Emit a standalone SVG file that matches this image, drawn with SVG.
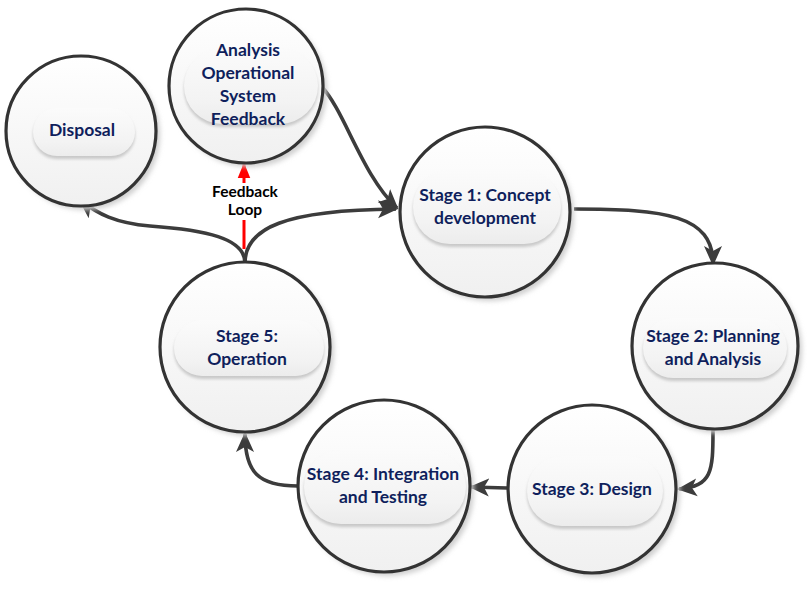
<svg xmlns="http://www.w3.org/2000/svg" width="807" height="595" viewBox="0 0 807 595">
<style>
.ring{fill:url(#cg);stroke:#333;stroke-width:3.2}
.shadow{fill:#cfcfcf;filter:url(#blur)}
.pill{fill:url(#pg);stroke:none;filter:url(#pshadow)}
.lbl{font-family:Lato,"Open Sans","Liberation Sans",sans-serif;font-weight:bold;font-size:17.5px;fill:#0f1f5c;text-anchor:middle}
.fb{font-family:Lato,"Open Sans","Liberation Sans",sans-serif;font-weight:bold;font-size:15.5px;fill:#000;text-anchor:middle}
.conn{fill:none;stroke:#3c3c3c;stroke-width:3.6;marker-end:url(#ah)}
</style>
<defs>
<linearGradient id="cg" x1="0" y1="0" x2="0" y2="1"><stop offset="0" stop-color="#ffffff"/><stop offset="1" stop-color="#f0f0f0"/></linearGradient>
<linearGradient id="pg" x1="0" y1="0" x2="0" y2="1"><stop offset="0" stop-color="#fbfbfb"/><stop offset="0.7" stop-color="#f3f3f3"/><stop offset="1" stop-color="#ececec"/></linearGradient>
<filter id="blur" x="-20%" y="-20%" width="140%" height="140%"><feGaussianBlur stdDeviation="2.5"/></filter>
<filter id="pshadow" x="-10%" y="-20%" width="120%" height="150%"><feDropShadow dx="0" dy="3" stdDeviation="1.5" flood-color="#bdbdbd" flood-opacity="0.8"/></filter>
<marker id="ah" viewBox="0 0 20 20" refX="18" refY="10" markerWidth="20" markerHeight="20" markerUnits="userSpaceOnUse" orient="auto">
<path d="M0,1 L20,10 L0,19 L5,10 Z" fill="#3c3c3c"/>
</marker>
<marker id="rh" viewBox="0 0 20 20" refX="18" refY="10" markerWidth="16" markerHeight="16" markerUnits="userSpaceOnUse" orient="auto">
<path d="M0,2 L20,10 L0,18 Z" fill="#ff0000"/>
</marker>
</defs>

<g id="connectors">
<path class="conn" d="M322,87 C345,112 362,175 397,208"/>
<path class="conn" d="M245,263 C245,228 285,210 396,209"/>
<path class="conn" d="M245,263 C245,238 205,230 150,226 C115,223 98,214 80,200"/>
<path class="conn" d="M574,209 C665,209 713,215 713,264"/>
<path class="conn" d="M713,430 C713,472 712,486 679,489"/>
<path class="conn" d="M507,488 L471,487"/>
<path class="conn" d="M298,486 C258,486 245,472 245,434"/>
<path d="M244,249 L244,220" stroke="#ff0000" stroke-width="3" fill="none"/>
<path d="M244,183 L244,164" stroke="#ff0000" stroke-width="3" fill="none" marker-end="url(#rh)"/>
<text class="fb" x="245" y="197">Feedback</text>
<text class="fb" x="245" y="215">Loop</text>
</g>

<g id="analysis">
<circle class="shadow" cx="250" cy="90" r="77"/>
<circle class="ring" cx="246" cy="86" r="77"/>
<rect class="pill" x="184" y="48" width="134" height="76" rx="38"/>
<text class="lbl" x="248" y="56">Analysis</text>
<text class="lbl" x="248" y="79">Operational</text>
<text class="lbl" x="248" y="102">System</text>
<text class="lbl" x="248" y="125">Feedback</text>
</g>

<g id="disposal">
<circle class="shadow" cx="85" cy="135" r="75"/>
<circle class="ring" cx="81" cy="131" r="75"/>
<rect class="pill" x="33" y="108" width="102" height="48" rx="24"/>
<text class="lbl" x="82" y="136">Disposal</text>
</g>

<g id="stage1">
<circle class="shadow" cx="489" cy="216" r="85"/>
<circle class="ring" cx="485" cy="212" r="85"/>
<rect class="pill" x="413" y="170" width="148" height="74" rx="37"/>
<text class="lbl" x="485" y="201">Stage 1: Concept</text>
<text class="lbl" x="485" y="224">development</text>
</g>

<g id="stage2">
<circle class="shadow" cx="719" cy="350" r="83"/>
<circle class="ring" cx="715" cy="346" r="83"/>
<rect class="pill" x="643" y="318" width="144" height="60" rx="30"/>
<text class="lbl" x="713" y="342">Stage 2: Planning</text>
<text class="lbl" x="713" y="365">and Analysis</text>
</g>

<g id="stage3">
<circle class="shadow" cx="596" cy="493" r="84"/>
<circle class="ring" cx="592" cy="489" r="84"/>
<rect class="pill" x="527" y="456" width="136" height="70" rx="35"/>
<text class="lbl" x="592" y="495">Stage 3: Design</text>
</g>

<g id="stage4">
<circle class="shadow" cx="388" cy="490" r="86"/>
<circle class="ring" cx="384" cy="486" r="86"/>
<rect class="pill" x="304" y="450" width="162" height="74" rx="37"/>
<text class="lbl" x="383" y="480">Stage 4: Integration</text>
<text class="lbl" x="383" y="503">and Testing</text>
</g>

<g id="stage5">
<circle class="shadow" cx="249" cy="351" r="85"/>
<circle class="ring" cx="245" cy="347" r="85"/>
<rect class="pill" x="174" y="320" width="150" height="56" rx="28"/>
<text class="lbl" x="247" y="342">Stage 5:</text>
<text class="lbl" x="247" y="365">Operation</text>
</g>
</svg>
